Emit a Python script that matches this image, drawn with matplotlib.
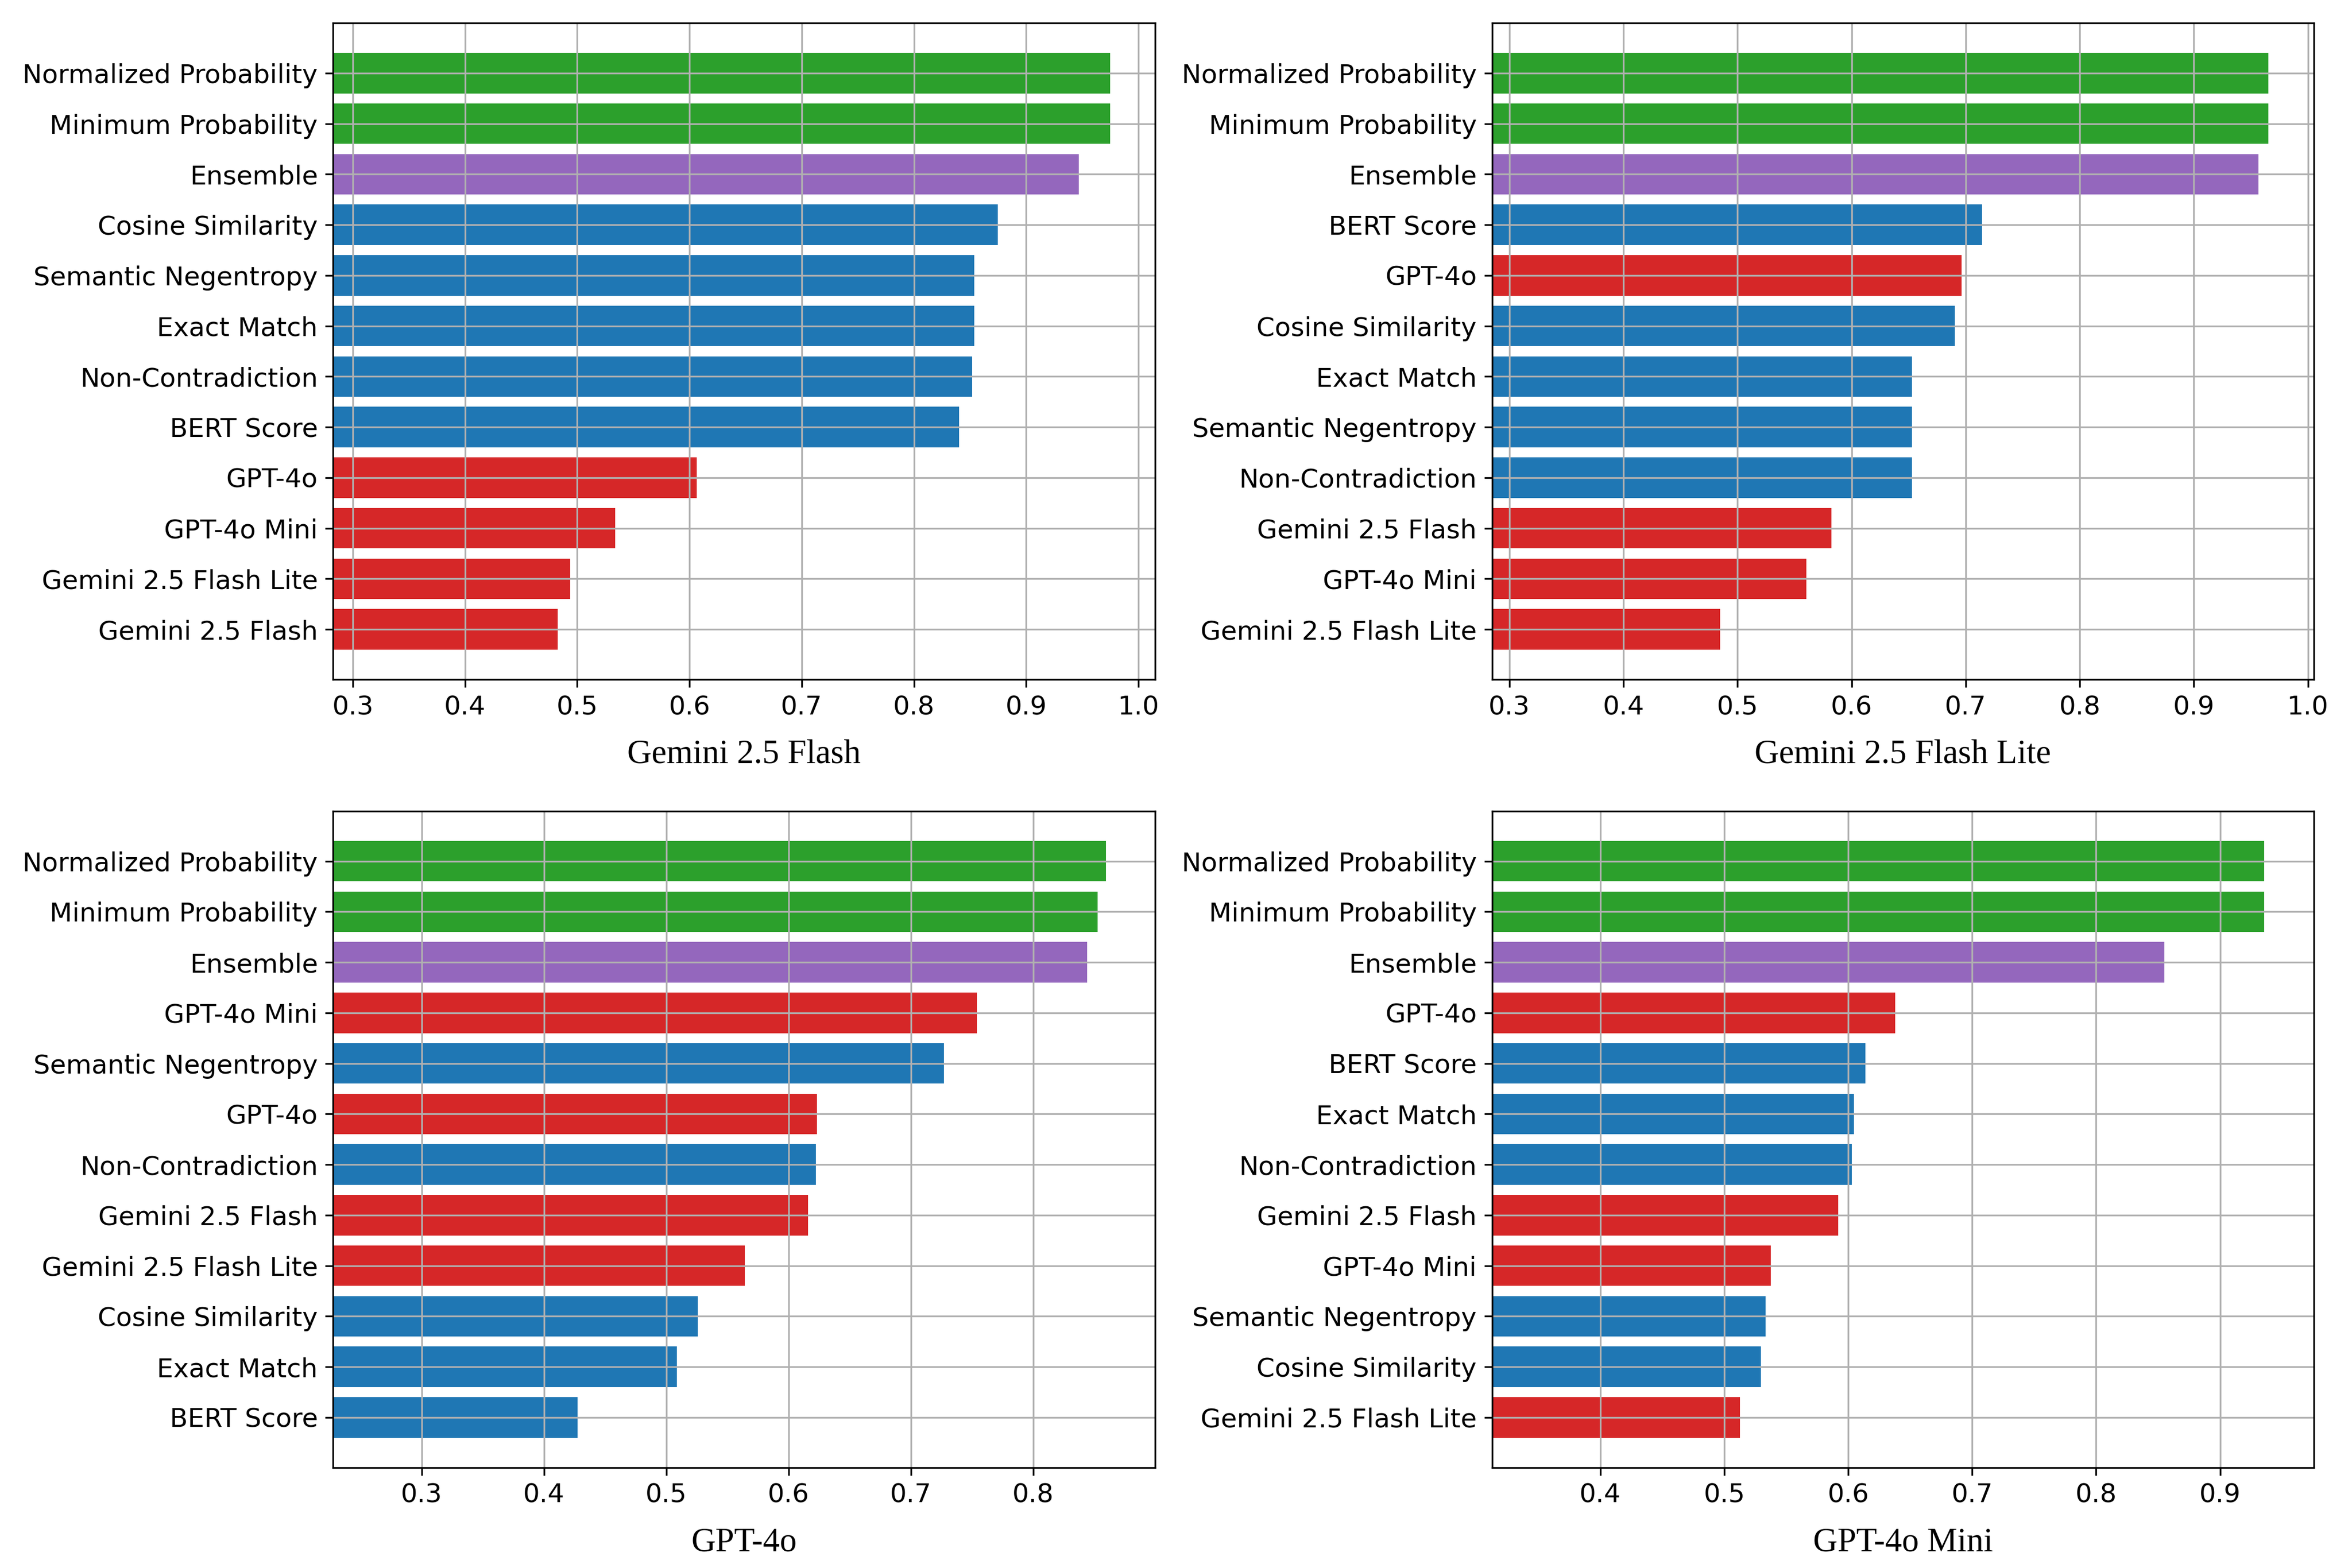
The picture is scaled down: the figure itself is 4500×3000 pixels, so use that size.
import matplotlib
matplotlib.use("Agg")
import matplotlib.pyplot as plt

# ---- data ----
panel_titles = ["Gemini 2.5 Flash", "Gemini 2.5 Flash Lite", "GPT-4o", "GPT-4o Mini"]

gemini_flash_labels = ["Normalized Probability", "Minimum Probability", "Ensemble",
                       "Cosine Similarity", "Semantic Negentropy", "Exact Match",
                       "Non-Contradiction", "BERT Score", "GPT-4o", "GPT-4o Mini",
                       "Gemini 2.5 Flash Lite", "Gemini 2.5 Flash"]
gemini_flash_values = [0.9747, 0.9747, 0.9466, 0.8745, 0.8538, 0.8538,
                       0.8518, 0.8404, 0.6066, 0.5338, 0.4937, 0.4824]

gemini_lite_labels = ["Normalized Probability", "Minimum Probability", "Ensemble",
                      "BERT Score", "GPT-4o", "Cosine Similarity", "Exact Match",
                      "Semantic Negentropy", "Non-Contradiction", "Gemini 2.5 Flash",
                      "GPT-4o Mini", "Gemini 2.5 Flash Lite"]
gemini_lite_values = [0.9653, 0.9653, 0.9568, 0.7142, 0.6964, 0.6905, 0.6531,
                      0.6531, 0.6531, 0.5821, 0.5604, 0.4847]

gpt4o_labels = ["Normalized Probability", "Minimum Probability", "Ensemble",
                "GPT-4o Mini", "Semantic Negentropy", "GPT-4o", "Non-Contradiction",
                "Gemini 2.5 Flash", "Gemini 2.5 Flash Lite", "Cosine Similarity",
                "Exact Match", "BERT Score"]
gpt4o_values = [0.8595, 0.8528, 0.8442, 0.7540, 0.7270, 0.6233, 0.6221,
                0.6160, 0.5644, 0.5258, 0.5086, 0.4276]

gpt4o_mini_labels = ["Normalized Probability", "Minimum Probability", "Ensemble",
                     "GPT-4o", "BERT Score", "Exact Match", "Non-Contradiction",
                     "Gemini 2.5 Flash", "GPT-4o Mini", "Semantic Negentropy",
                     "Cosine Similarity", "Gemini 2.5 Flash Lite"]
gpt4o_mini_values = [0.9357, 0.9357, 0.8552, 0.6379, 0.6137, 0.6046, 0.6028,
                     0.5919, 0.5374, 0.5332, 0.5295, 0.5126]

white_box = ["Normalized Probability", "Minimum Probability"]
ensemble = ["Ensemble"]
black_box = ["Cosine Similarity", "Semantic Negentropy", "Exact Match",
             "Non-Contradiction", "BERT Score"]
judges = ["GPT-4o", "GPT-4o Mini", "Gemini 2.5 Flash", "Gemini 2.5 Flash Lite"]

def color_for(name):
    if name in white_box:
        return "tab:green"
    if name in ensemble:
        return "tab:purple"
    if name in black_box:
        return "tab:blue"
    return "tab:red"

panels = [(gemini_flash_labels, gemini_flash_values),
          (gemini_lite_labels, gemini_lite_values),
          (gpt4o_labels, gpt4o_values),
          (gpt4o_mini_labels, gpt4o_mini_values)]

fig, axes = plt.subplots(2, 2, figsize=(15, 10), dpi=300)
fig.subplots_adjust(left=0.1416, right=0.9838, top=0.9853, bottom=0.0641,
                    wspace=0.410, hspace=0.2007)

for ax, (labels, values), title in zip(axes.flat, panels, panel_titles):
    colors = [color_for(l) for l in labels]
    ax.barh(labels, values, color=colors, height=0.8)
    ax.invert_yaxis()
    ax.set_xlim(min(values) - 0.2, max(values) + 0.04)
    ax.grid(True)
    ax.tick_params(axis="both", labelsize=12)
    ax.set_xlabel(title, fontsize=15.5, family="Liberation Serif", labelpad=9)

fig.savefig("out.png", dpi=300)
